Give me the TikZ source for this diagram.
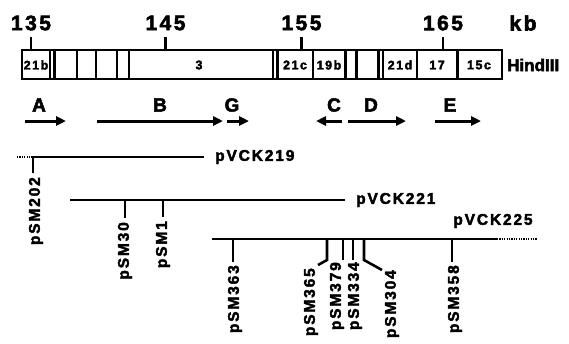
\documentclass[tikz,border=0pt]{standalone}
\usepackage{fontspec}
\setmainfont{Liberation Sans}
\newfontfamily\spfont[LetterSpace=12,FakeBold=2.6]{Liberation Sans Bold}
\newfontfamily\hfont[FakeBold=2.6]{Liberation Sans Bold}
\usetikzlibrary{arrows.meta}
\tikzset{
  tick/.style={line width=2.6pt},
  boxline/.style={line width=2.8pt},
  divline/.style={line width=2.3pt},
  arr/.style={line width=3pt,-{Triangle[length=10pt,width=9pt]}},
  clone/.style={line width=2.6pt},
  dots/.style={line width=1.2pt,dash pattern=on 1.2pt off 1.2pt},
  num/.style={inner sep=0pt,font=\spfont\fontsize{21}{21}\selectfont},
  big/.style={inner sep=0pt,font=\spfont\fontsize{19}{19}\selectfont},
  boxtxt/.style={inner sep=0pt,font=\spfont\fontsize{12.5}{12.5}\selectfont},
  lbl/.style={inner sep=0pt,font=\spfont\fontsize{15.5}{15.5}\selectfont},
  vlbl/.style={lbl,rotate=90,anchor=east},
}
\begin{document}
\begin{tikzpicture}[x=1pt,y=-1pt]
\useasboundingbox (0,0) rectangle (569,343);
% scale ticks
\foreach \x/\t in {31/135,165.5/145,301.5/155,443/165}{
  \draw[tick] (\x,37) -- (\x,50);
  \node[num] (n\t) at (\x,23) {\t};
}
\node[num] (kb) at (523,23) {kb};
% HindIII map
\draw[boxline] (22,50) rectangle (502,79);
\foreach \x in {50,54.5,77,96,117,129,273,277.5,313,345.5,356.5,378.5,383,417,457.5}{
  \draw[divline] (\x,50) -- (\x,79);
}
\node[boxtxt] (b21b) at (36,65) {21b};
\node[boxtxt] (b3) at (199,65) {3};
\node[boxtxt] (b21c) at (295,65) {21c};
\node[boxtxt] (b19b) at (329,65) {19b};
\node[boxtxt] (b21d) at (400,65) {21d};
\node[boxtxt] (b17) at (437,65) {17};
\node[boxtxt] (b15c) at (479,65) {15c};
\node[inner sep=0pt,anchor=west,font=\hfont\fontsize{17}{17}\selectfont] (hind) at (507,65) {HindIII};
% transcripts
\node[big] (lA) at (39,105) {A};
\node[big] (lB) at (160,105) {B};
\node[big] (lG) at (232,105) {G};
\node[big] (lC) at (334,105) {C};
\node[big] (lD) at (371,105) {D};
\node[big] (lE) at (450,105) {E};
\coordinate (A1) at (25,121); \coordinate (A2) at (66,121);
\coordinate (B1) at (97,121); \coordinate (B2) at (223,121);
\coordinate (G1) at (227,121); \coordinate (G2) at (249,121);
\coordinate (C1) at (342,121); \coordinate (C2) at (316,121);
\coordinate (D1) at (348,121); \coordinate (D2) at (406,121);
\coordinate (E1) at (435,121); \coordinate (E2) at (481,121);
\draw[arr] (A1) -- (A2);
\draw[arr] (B1) -- (B2);
\draw[arr] (G1) -- (G2);
\draw[arr] (C1) -- (C2);
\draw[arr] (D1) -- (D2);
\draw[arr] (E1) -- (E2);
% pVCK219
\coordinate (p219d) at (17,157);
\coordinate (p219a) at (33,157);
\coordinate (p219b) at (204,157);
\draw[dots] (p219d) -- (p219a);
\draw[clone] (p219a) -- (p219b);
\node[lbl,anchor=west] (t219) at (215,157) {pVCK219};
\coordinate (d202) at (33,173);
\draw[clone] (p219a) -- (d202);
\node[vlbl] (s202) at (36,177) {pSM202};
% pVCK221
\coordinate (p221a) at (70,200);
\coordinate (p221b) at (345,200);
\draw[clone] (p221a) -- (p221b);
\node[lbl,anchor=west] (t221) at (356,200) {pVCK221};
\coordinate (u30) at (125,200); \coordinate (d30) at (125,218);
\coordinate (u1) at (163,200); \coordinate (d1) at (163,217);
\draw[clone] (u30) -- (d30);
\draw[clone] (u1) -- (d1);
\node[vlbl] (s30) at (125,222) {pSM30};
\node[vlbl] (s1) at (163,221) {pSM1};
% pVCK225
\coordinate (p225a) at (212,239);
\coordinate (p225b) at (497,239);
\coordinate (p225d) at (537,239);
\draw[clone] (p225a) -- (p225b);
\draw[dots] (p225b) -- (p225d);
\node[lbl] (t225) at (493,221) {pVCK225};
\coordinate (u363) at (233,239); \coordinate (d363) at (233,262);
\coordinate (u365) at (327,239); \coordinate (d365) at (327,260); \coordinate (e365) at (318,265);
\coordinate (u379) at (343,239); \coordinate (d379) at (343,260);
\coordinate (u334) at (353,239); \coordinate (d334) at (353,260);
\coordinate (u304) at (364,239); \coordinate (d304) at (364,260); \coordinate (e304) at (382,270);
\coordinate (u358) at (452,239); \coordinate (d358) at (452,262);
\draw[clone] (u363) -- (d363);
\draw[clone] (u365) -- (d365) -- (e365);
\draw[clone] (u379) -- (d379);
\draw[clone] (u334) -- (d334);
\draw[clone] (u304) -- (d304) -- (e304);
\draw[clone] (u358) -- (d358);
\node[vlbl] (s363) at (235,265) {pSM363};
\node[vlbl] (s365) at (311,268) {pSM365};
\node[vlbl] (s379) at (337,262) {pSM379};
\node[vlbl] (s334) at (355,262) {pSM334};
\node[vlbl] (s304) at (392,270) {pSM304};
\node[vlbl] (s358) at (455,265) {pSM358};
\end{tikzpicture}
\end{document}
